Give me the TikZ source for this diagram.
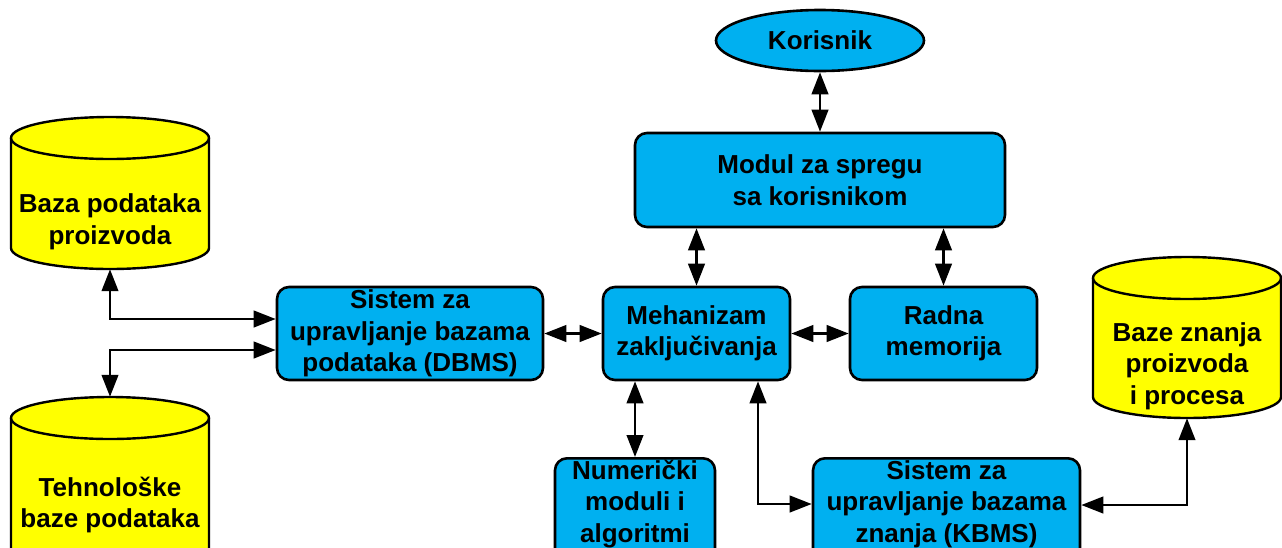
\documentclass[tikz,border=0pt]{standalone}
\usepackage{fontspec}
\setmainfont{Liberation Sans}
\usetikzlibrary{arrows.meta,shapes.geometric}
\definecolor{boxblue}{HTML}{00B0F0}
\definecolor{dbyellow}{HTML}{FFFF00}
% #1 name, #2 cx, #3 rx, #4 y of top ellipse centre, #5 y of bottom ellipse centre, #6 ry
\newcommand\dbcyl[6]{%
  \path[cylshape] ({#2-#3},#4) -- ({#2-#3},#5)
     arc[start angle=180,end angle=0,x radius=#3,y radius=#6]
     -- ({#2+#3},#4)
     arc[start angle=0,end angle=-180,x radius=#3,y radius=#6] -- cycle;
  \draw[cylline] ({#2-#3},#4) arc[start angle=180,end angle=0,x radius=#3,y radius=#6];
  \node[inner sep=0pt, minimum width={2*#3}, minimum height={#5-#4+2*#6}] (#1) at (#2,{(#4+#5)/2}) {};
}
\begin{document}
\begin{tikzpicture}[x=1pt,y=-1pt,
  every node/.style={font=\fontsize{26}{31.5}\selectfont\bfseries, align=center, text=black},
  box/.style={draw, line width=2.6pt, fill=boxblue, rounded corners=12pt, inner sep=0pt},
  oval/.style={draw, line width=2.6pt, fill=boxblue, ellipse, inner sep=0pt},
  cylshape/.style={draw, line width=2.4pt, fill=dbyellow},
  cylline/.style={draw, line width=2.4pt},
  dbl/.style={line width=2.6pt, {Triangle[length=22pt,width=16.5pt]}-{Triangle[length=22pt,width=16.5pt]}}]
\clip (0,0) rectangle (1282,547);
\useasboundingbox (0,0) rectangle (1282,547);

% databases
\dbcyl{bp}{110}{99}{138}{248}{21}
\node (bptxt) at (110,222) {Baza podataka\\proizvoda};
\dbcyl{tb}{110}{99}{418}{560}{21}
\node (tbtxt) at (110,505) {Tehnološke\\baze podataka};
\dbcyl{kb}{1187}{94}{278}{397}{21}
\node (kbtxt) at (1187,366) {Baze znanja\\proizvoda\\i procesa};

% boxes
\node[oval, minimum width=208pt, minimum height=61pt] (kor) at (820,40.5) {Korisnik};
\node[box, minimum width=370pt, minimum height=94pt] (mod) at (820,180) {Modul za spregu\\sa korisnikom};
\node[box, minimum width=266pt, minimum height=93pt] (dbms) at (410,333.5) {Sistem za\\upravljanje bazama\\podataka (DBMS)};
\node[box, minimum width=187pt, minimum height=93pt] (meh) at (696.5,333.5) {Mehanizam\\zaključivanja};
\node[box, minimum width=187pt, minimum height=93pt] (radna) at (943.5,333.5) {Radna\\memorija};
\node[box, minimum width=160pt, minimum height=120pt, anchor=north] (num) at (635,457) {};
\node (numtxt) at (635,504) {Numerički\\moduli i\\algoritmi};
\node[box, minimum width=267pt, minimum height=120pt, anchor=north] (kbms) at (946.5,457) {};
\node (kbmstxt) at (946.5,504) {Sistem za\\upravljanje bazama\\znanja (KBMS)};

% connectors
\coordinate (c1) at (110,319);
\coordinate (c2) at (110,350);
\coordinate (c3) at (758,504);
\coordinate (c4) at (1190,505);
\draw[dbl] (bp.south) |- (dbms.west |- c1);
\draw[dbl] (dbms.west |- c2) -| (tb.north);
\draw[dbl] (dbms) -- (meh);
\draw[dbl] (meh) -- (radna);
\draw[dbl] (kor) -- (mod);
\draw[dbl] (meh.north) -- (meh.north |- mod.south);
\draw[dbl] (radna.north) -- (radna.north |- mod.south);
\draw[dbl] (num.north) -- (num.north |- meh.south);
\draw[dbl] (meh.south -| c3) |- (kbms.west |- c3);
\draw[dbl] (kbms.east |- c4) -| (kb.south);
\end{tikzpicture}
\end{document}
